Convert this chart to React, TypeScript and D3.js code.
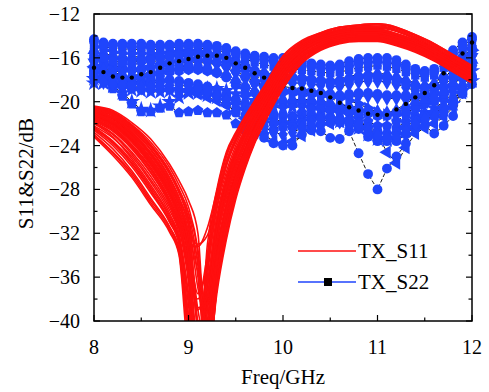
import React from 'react';
import * as d3 from 'd3';

const X_TICKS = [8, 9, 10, 11, 12];
const X_MINOR = [8.5, 9.5, 10.5, 11.5];
const Y_TICKS = [-12, -16, -20, -24, -28, -32, -36, -40];
const Y_MINOR = [-14, -18, -22, -26, -30, -34, -38];

const RED_FREQ = [8.0, 8.2, 8.4, 8.6, 8.8, 8.9, 9.0, 9.1, 9.2, 9.3, 9.4, 9.5, 9.6, 9.7, 9.8, 10.0, 10.2, 10.4, 10.6, 10.8, 11.0, 11.2, 11.4, 11.6, 11.8, 12.0];

const S11_CURVES = [
  [-20.4, -20.8, -21.9, -23.4, -25.7, -27.2, -29.0, -32.0, -44, -37.0, -32.3, -28.6, -25.9, -23.7, -21.9, -18.7, -16.4, -15.2, -14.6, -14.4, -14.4, -14.8, -15.4, -16.2, -17.2, -18.2],
  [-20.5, -20.9, -22.1, -23.7, -26.0, -27.6, -29.6, -33.5, -42, -34.5, -30.0, -26.8, -24.4, -22.4, -20.8, -17.8, -15.9, -14.9, -14.3, -14.1, -14.1, -14.5, -15.1, -15.9, -16.9, -17.9],
  [-20.7, -21.2, -22.4, -24.1, -26.6, -28.3, -30.6, -36, -45, -36.0, -31.5, -28.0, -25.4, -23.2, -21.4, -18.3, -16.2, -15.1, -14.5, -14.3, -14.3, -14.7, -15.3, -16.1, -17.1, -18.1],
  [-20.8, -21.3, -22.6, -24.4, -27.0, -28.8, -31.3, -40, -40, -32.0, -28.0, -25.2, -23.2, -21.5, -20.0, -17.1, -15.3, -14.4, -13.9, -13.7, -13.7, -14.1, -14.7, -15.5, -16.5, -17.5],
  [-21.0, -21.6, -23.0, -24.9, -27.6, -29.5, -32.5, -40, -41, -33.5, -29.5, -26.5, -24.2, -22.2, -20.6, -17.7, -15.8, -14.8, -14.2, -14.0, -14.0, -14.4, -15.0, -15.8, -16.8, -17.8],
  [-21.1, -21.8, -23.2, -25.2, -27.9, -29.9, -32.0, -33.0, -32.2, -29.0, -25.8, -23.5, -21.9, -20.5, -19.2, -16.4, -14.8, -14.0, -13.6, -13.4, -13.4, -13.8, -14.4, -15.2, -16.2, -17.2],
  [-21.4, -22.1, -23.6, -25.7, -28.5, -30.6, -34.5, -44, -38, -31.0, -27.3, -24.8, -22.9, -21.2, -19.7, -16.9, -15.2, -14.3, -13.8, -13.6, -13.6, -14.0, -14.6, -15.4, -16.4, -17.4],
  [-21.5, -22.3, -23.9, -26.0, -28.9, -31.0, -35.5, -46, -34, -28.3, -24.8, -23.0, -21.5, -20.1, -18.8, -16.1, -14.6, -13.8, -13.3, -13.1, -13.0, -13.3, -14.0, -14.8, -15.8, -16.9],
  [-21.8, -22.7, -24.3, -26.5, -29.4, -31.6, -36.5, -47, -40, -33.5, -29.5, -26.5, -24.2, -22.2, -20.6, -17.6, -15.7, -14.7, -14.1, -13.9, -13.9, -14.3, -14.9, -15.7, -16.7, -17.7],
  [-21.9, -22.9, -24.6, -26.8, -29.6, -31.5, -32.8, -33.2, -31.5, -28.2, -25.0, -23.0, -21.5, -20.1, -18.9, -16.2, -14.7, -13.9, -13.5, -13.3, -13.3, -13.6, -14.3, -15.1, -16.1, -17.1],
  [-22.2, -23.3, -25.0, -27.3, -30.2, -32.4, -38.5, -46, -37, -30.8, -27.0, -24.6, -22.7, -21.0, -19.5, -16.7, -15.0, -14.2, -13.7, -13.5, -13.5, -13.9, -14.5, -15.3, -16.3, -17.3],
  [-22.3, -23.6, -25.4, -27.8, -30.6, -32.7, -39.5, -44, -33, -28.0, -24.6, -22.8, -21.3, -19.9, -18.6, -15.9, -14.5, -13.7, -13.2, -13.0, -12.9, -13.2, -13.9, -14.7, -15.7, -16.8],
  [-22.6, -24.0, -25.9, -28.3, -31.0, -33.0, -40.5, -47, -41, -33.8, -29.8, -26.8, -24.5, -22.4, -20.8, -17.8, -15.9, -14.9, -14.3, -14.1, -14.1, -14.5, -15.1, -15.9, -16.9, -17.9],
  [-23.2, -24.9, -26.9, -29.4, -31.9, -34.0, -43, -45, -35, -28.6, -25.0, -23.0, -21.4, -20.0, -18.6, -15.8, -14.4, -13.7, -13.2, -13.0, -12.9, -13.2, -13.9, -14.7, -15.7, -16.7],
  [-23.0, -24.6, -26.5, -29.0, -31.5, -33.6, -41, -48, -45, -37.5, -32.6, -28.9, -26.1, -23.8, -22.0, -18.8, -16.5, -15.3, -14.7, -14.5, -14.5, -14.9, -15.5, -16.3, -17.3, -18.3],
  [-22.0, -23.2, -25.2, -27.6, -30.4, -32.4, -37.5, -45, -38, -31.2, -27.4, -24.9, -23.0, -21.3, -19.8, -17.0, -15.2, -14.3, -13.8, -13.6, -13.6, -14.0, -14.6, -15.4, -16.4, -17.4],
  [-20.6, -21.0, -22.2, -23.9, -26.3, -28.0, -30.2, -35, -45, -34.0, -29.2, -26.2, -23.9, -21.9, -20.3, -17.3, -15.5, -14.5, -14.0, -13.8, -13.8, -14.2, -14.8, -15.6, -16.6, -17.6],
  [-21.2, -21.9, -23.4, -25.5, -28.2, -30.2, -33.5, -45, -44, -36.5, -31.8, -28.2, -25.6, -23.4, -21.6, -18.5, -16.3, -15.1, -14.5, -14.3, -14.3, -14.7, -15.3, -16.1, -17.1, -18.1],
  [-20.5, -21.0, -22.2, -24.0, -26.4, -28.1, -30.1, -34, -45, -35.5, -30.8, -27.4, -24.9, -22.8, -21.1, -18.0, -16.0, -15.0, -14.4, -14.2, -14.2, -14.6, -15.2, -16.0, -17.0, -18.0],
  [-20.9, -21.5, -22.8, -24.7, -27.3, -29.1, -31.9, -39, -42, -33.0, -28.8, -25.9, -23.7, -21.8, -20.3, -17.4, -15.5, -14.6, -14.1, -13.9, -13.9, -14.3, -14.9, -15.7, -16.7, -17.7],
  [-21.2, -22.0, -23.4, -25.5, -28.2, -30.2, -33.8, -43, -37, -30.5, -26.8, -24.3, -22.5, -20.8, -19.4, -16.6, -15.0, -14.1, -13.6, -13.4, -13.4, -13.8, -14.4, -15.2, -16.2, -17.2],
  [-21.6, -22.5, -24.1, -26.2, -29.1, -31.2, -36.0, -46, -39, -32.2, -28.3, -25.6, -23.5, -21.7, -20.2, -17.3, -15.5, -14.5, -14.0, -13.8, -13.8, -14.2, -14.8, -15.6, -16.6, -17.6],
  [-21.7, -22.6, -24.2, -26.4, -29.2, -31.3, -35.0, -45, -35, -29.0, -25.5, -23.4, -21.8, -20.4, -19.1, -16.3, -14.8, -14.0, -13.5, -13.2, -13.2, -13.5, -14.2, -15.0, -16.0, -17.0],
  [-22.0, -23.0, -24.8, -27.1, -29.9, -32.0, -37.8, -46, -41, -34.6, -30.4, -27.3, -24.9, -22.8, -21.1, -18.0, -16.0, -15.0, -14.4, -14.2, -14.2, -14.6, -15.2, -16.0, -17.0, -18.0],
  [-22.4, -23.7, -25.6, -28.0, -30.8, -32.8, -40.0, -46, -36, -29.6, -25.9, -23.7, -22.0, -20.5, -19.1, -16.3, -14.8, -14.0, -13.5, -13.3, -13.2, -13.5, -14.2, -15.0, -16.0, -17.0],
  [-22.8, -24.3, -26.3, -28.8, -31.4, -33.4, -41.5, -47, -39, -32.0, -28.1, -25.5, -23.5, -21.7, -20.1, -17.2, -15.4, -14.5, -14.0, -13.8, -13.7, -14.1, -14.7, -15.5, -16.5, -17.5],
  [-23.1, -24.7, -26.7, -29.2, -31.7, -33.8, -42, -47, -43, -35.5, -31.0, -27.7, -25.2, -23.1, -21.4, -18.3, -16.2, -15.1, -14.5, -14.3, -14.3, -14.7, -15.3, -16.1, -17.1, -18.1],
  [-20.6, -21.1, -22.3, -24.0, -26.5, -28.3, -30.9, -37, -40, -31.5, -27.6, -24.9, -22.9, -21.2, -19.7, -16.9, -15.2, -14.3, -13.8, -13.6, -13.5, -13.9, -14.5, -15.3, -16.3, -17.3],
  [-21.3, -22.0, -23.5, -25.6, -28.4, -30.4, -33.0, -41, -45, -37.0, -32.0, -28.4, -25.7, -23.5, -21.7, -18.6, -16.4, -15.2, -14.6, -14.4, -14.4, -14.8, -15.4, -16.2, -17.2, -18.2],
  [-22.5, -23.8, -25.7, -28.1, -30.9, -32.9, -39.5, -47, -42, -34.2, -30.0, -26.9, -24.6, -22.5, -20.9, -17.9, -15.9, -14.9, -14.3, -14.1, -14.1, -14.5, -15.1, -15.9, -16.9, -17.9],
  [-21.0, -21.7, -23.1, -25.1, -27.8, -29.8, -33.0, -37.5, -35.0, -29.8, -26.4, -24.0, -22.2, -20.7, -19.3, -16.5, -14.9, -14.1, -13.6, -13.4, -13.4, -13.8, -14.4, -15.2, -16.2, -17.2],
  [-21.3, -22.1, -23.6, -25.7, -28.6, -30.7, -34.8, -39.0, -36.5, -30.6, -27.0, -24.5, -22.6, -21.0, -19.6, -16.8, -15.1, -14.2, -13.7, -13.5, -13.5, -13.9, -14.5, -15.3, -16.3, -17.3],
  [-20.9, -21.5, -22.9, -24.8, -27.5, -29.4, -32.0, -35.5, -38.5, -32.5, -28.6, -25.8, -23.7, -21.9, -20.4, -17.5, -15.6, -14.6, -14.1, -13.9, -13.9, -14.3, -14.9, -15.7, -16.7, -17.7],
  [-21.6, -22.4, -24.0, -26.1, -29.0, -31.1, -35.8, -38.0, -34.0, -28.8, -25.5, -23.3, -21.7, -20.3, -19.0, -16.2, -14.7, -13.9, -13.4, -13.2, -13.1, -13.4, -14.1, -14.9, -15.9, -16.9],
  [-20.7, -21.2, -22.5, -24.3, -26.9, -28.7, -31.2, -34.5, -39.0, -34.0, -29.8, -26.8, -24.5, -22.5, -20.9, -17.9, -15.9, -14.9, -14.3, -14.1, -14.1, -14.5, -15.1, -15.9, -16.9, -17.9],
  [-21.2, -21.9, -23.3, -25.4, -28.1, -30.1, -33.6, -38.8, -37.8, -31.6, -27.8, -25.2, -23.2, -21.5, -20.0, -17.1, -15.3, -14.4, -13.9, -13.7, -13.7, -14.1, -14.7, -15.5, -16.5, -17.5],
  [-21.1, -21.8, -23.2, -25.3, -28.0, -30.0, -33.0, -42.5, -43, -35.0, -30.5, -27.3, -24.9, -22.8, -21.1, -18.0, -16.0, -15.0, -14.4, -14.2, -14.2, -14.6, -15.2, -16.0, -17.0, -18.0],
  [-20.9, -21.5, -22.9, -24.9, -27.5, -29.4, -32.0, -41.0, -44, -36.0, -31.2, -27.8, -25.3, -23.1, -21.4, -18.3, -16.2, -15.1, -14.5, -14.3, -14.3, -14.7, -15.3, -16.1, -17.1, -18.1],
  [-21.4, -22.2, -23.7, -25.8, -28.6, -30.6, -34.0, -44, -42, -34.5, -30.0, -26.9, -24.6, -22.6, -20.9, -17.8, -15.8, -14.8, -14.2, -14.0, -14.0, -14.4, -15.0, -15.8, -16.8, -17.8],
  [-20.8, -21.4, -22.7, -24.6, -27.2, -29.1, -31.0, -40.5, -45, -37.0, -32.0, -28.4, -25.7, -23.5, -21.7, -18.6, -16.4, -15.2, -14.6, -14.4, -14.4, -14.8, -15.4, -16.2, -17.2, -18.2],
];

const BLUE_FREQ = [
  8.0, 8.1, 8.2, 8.3, 8.4, 8.5, 8.6, 8.7, 8.8, 8.9,
  9.0, 9.1, 9.2, 9.3, 9.4, 9.5, 9.6, 9.7, 9.8, 9.9,
  10.0, 10.1, 10.2, 10.3, 10.4, 10.5, 10.6, 10.7, 10.8, 10.9,
  11.0, 11.1, 11.2, 11.3, 11.4, 11.5, 11.6, 11.7, 11.8, 11.9,
  12.0,
];

const S22_SERIES = [
  [-14.3, -14.6, -14.7, -14.7, -14.7, -14.7, -14.8, -14.8, -14.8, -14.7,
   -14.7, -14.7, -14.8, -14.9, -15.1, -15.4, -15.6, -15.8, -15.9, -16.0,
   -16.0, -16.1, -16.3, -16.5, -16.6, -16.7, -16.6, -16.3, -16.1, -16.0,
   -16.0, -16.0, -16.2, -16.6, -17.0, -17.2, -17.0, -16.0, -15.3, -14.6,
   -14.1],
  [-14.8, -15.0, -15.1, -15.2, -15.2, -15.3, -15.3, -15.2, -15.1, -15.0,
   -15.0, -15.1, -15.2, -15.3, -15.5, -15.8, -16.1, -16.4, -16.6, -16.8,
   -16.9, -17.0, -17.1, -17.2, -17.3, -17.4, -17.3, -17.1, -16.9, -16.8,
   -16.7, -16.8, -17.0, -17.3, -17.6, -17.8, -17.6, -16.9, -16.0, -15.2,
   -14.5],
  [-15.3, -15.6, -15.8, -15.9, -15.9, -15.9, -15.8, -15.7, -15.6, -15.5,
   -15.4, -15.4, -15.5, -15.6, -15.8, -16.2, -16.6, -17.0, -17.3, -17.5,
   -17.6, -17.6, -17.7, -17.8, -17.9, -18.0, -17.9, -17.7, -17.5, -17.4,
   -17.4, -17.5, -17.7, -18.0, -18.3, -18.5, -18.3, -17.6, -16.7, -15.8,
   -15.0],
  [-15.8, -16.2, -16.5, -16.6, -16.6, -16.5, -16.4, -16.2, -16.0, -15.9,
   -15.8, -15.8, -15.9, -16.0, -16.3, -16.7, -17.2, -17.6, -18.0, -18.2,
   -18.3, -18.3, -18.3, -18.4, -18.5, -18.6, -18.6, -18.4, -18.2, -18.1,
   -18.1, -18.2, -18.4, -18.7, -19.0, -19.1, -18.9, -18.2, -17.3, -16.3,
   -15.4],
  [-16.4, -16.9, -17.2, -17.3, -17.3, -17.2, -17.0, -16.8, -16.6, -16.5,
   -16.4, -16.4, -16.5, -16.6, -16.9, -17.4, -17.9, -18.4, -18.8, -19.1,
   -19.2, -19.2, -19.2, -19.3, -19.4, -19.6, -19.7, -19.6, -19.5, -19.5,
   -19.6, -19.7, -19.7, -19.8, -19.8, -19.7, -19.5, -18.9, -18.0, -16.9,
   -15.9],
  [-17.0, -17.5, -17.8, -18.0, -18.0, -17.9, -17.7, -17.5, -17.3, -17.2,
   -17.1, -17.1, -17.2, -17.4, -17.7, -18.2, -18.7, -19.2, -19.7, -20.0,
   -20.2, -20.2, -20.1, -20.1, -20.2, -20.4, -20.6, -20.7, -20.9, -21.1,
   -21.3, -21.3, -21.0, -20.7, -20.4, -20.2, -20.0, -19.5, -18.6, -17.4,
   -16.4],
  [-17.6, -18.0, -18.4, -18.6, -18.8, -18.9, -18.9, -18.9, -18.9, -19.0,
   -19.0, -19.0, -19.2, -19.3, -19.5, -19.8, -20.2, -20.6, -21.0, -21.2,
   -21.3, -21.3, -21.3, -21.2, -21.2, -21.4, -21.6, -21.8, -22.5, -23.2,
   -23.6, -23.3, -22.4, -21.8, -21.3, -21.1, -21.0, -20.6, -20.0, -18.8,
   -17.8],
  [-18.3, -18.3, -18.6, -19.2, -20.0, -20.7, -20.8, -20.4, -20.0, -19.6,
   -19.2, -18.9, -18.8, -18.8, -19.0, -19.3, -19.6, -19.9, -20.2, -20.5,
   -20.6, -20.5, -20.5, -20.6, -20.8, -21.0, -21.0, -21.2, -21.6, -22.4,
   -23.0, -23.4, -23.0, -22.4, -21.6, -21.0, -20.6, -20.0, -19.2, -18.1,
   -17.2],
  [-17.9, -18.1, -18.8, -19.5, -20.2, -20.9, -20.9, -20.6, -20.4, -21.0,
   -20.9, -20.8, -21.0, -21.0, -21.2, -22.0, -22.6, -23.0, -23.0, -22.6,
   -22.0, -21.5, -21.0, -20.7, -20.6, -20.7, -20.9, -21.0, -21.3, -21.8,
   -22.2, -22.2, -21.8, -21.2, -20.6, -20.2, -19.8, -19.3, -18.6, -17.6,
   -16.8],
  [-16.8, -17.0, -17.3, -17.6, -18.0, -18.3, -18.5, -18.6, -18.6, -18.8,
   -19.0, -19.3, -19.6, -19.9, -20.3, -20.9, -21.5, -22.2, -23.0, -23.6,
   -23.8, -23.6, -23.1, -22.6, -22.2, -22.0, -21.8, -21.6, -21.8, -22.4,
   -23.0, -24.6, -25.6, -24.2, -22.9, -22.4, -22.0, -21.4, -20.5, -19.2,
   -18.0],
  [-16.0, -16.4, -16.7, -16.9, -17.0, -17.0, -16.9, -16.8, -16.7, -16.7,
   -16.7, -16.8, -17.0, -17.3, -17.8, -18.5, -19.3, -20.1, -20.9, -21.5,
   -21.9, -22.1, -22.3, -22.6, -22.7, -23.3, -23.4, -22.7, -24.7, -26.6,
   -28.0, -26.1, -25.0, -23.8, -22.5, -22.2, -22.9, -22.2, -21.3, -19.3,
   -18.4],
  [-17.2, -17.6, -17.9, -18.1, -18.2, -18.2, -18.1, -18.0, -18.0, -18.1,
   -18.3, -18.6, -19.0, -19.5, -20.2, -21.0, -21.8, -22.6, -23.3, -23.8,
   -24.0, -24.0, -23.0, -22.4, -22.0, -21.9, -21.9, -22.0, -22.3, -22.8,
   -23.3, -23.6, -23.6, -23.0, -22.2, -21.6, -21.3, -20.9, -20.3, -19.0,
   -17.9],
  [-15.0, -15.3, -15.5, -15.6, -15.6, -15.6, -15.6, -15.5, -15.4, -15.3,
   -15.3, -15.4, -15.6, -15.9, -16.3, -16.9, -17.5, -18.1, -18.6, -19.0,
   -19.2, -19.3, -19.4, -19.4, -19.5, -19.6, -19.7, -19.9, -20.2, -20.6,
   -21.0, -21.2, -21.2, -21.0, -20.6, -20.2, -19.8, -19.0, -17.8, -16.5,
   -15.3],
  [-14.5, -14.8, -14.9, -14.9, -15.0, -15.0, -15.0, -15.0, -14.9, -14.9,
   -14.9, -14.9, -15.0, -15.1, -15.3, -15.6, -15.9, -16.1, -16.2, -16.3,
   -16.4, -16.5, -16.7, -16.8, -16.9, -17.0, -16.9, -16.7, -16.5, -16.4,
   -16.3, -16.4, -16.6, -16.9, -17.3, -17.5, -17.3, -16.4, -15.6, -14.9,
   -14.3],
  [-15.5, -15.9, -16.1, -16.2, -16.3, -16.2, -16.1, -15.9, -15.8, -15.7,
   -15.6, -15.6, -15.7, -15.8, -16.1, -16.5, -16.9, -17.3, -17.7, -17.9,
   -18.0, -18.0, -18.0, -18.1, -18.2, -18.3, -18.3, -18.1, -17.9, -17.8,
   -17.8, -17.9, -18.1, -18.4, -18.7, -18.8, -18.6, -17.9, -17.0, -16.0,
   -15.2],
  [-16.2, -16.6, -17.0, -17.1, -17.1, -17.1, -16.9, -16.6, -16.4, -16.2,
   -16.1, -16.1, -16.2, -16.4, -16.7, -17.2, -17.7, -18.2, -18.6, -18.9,
   -19.0, -19.0, -19.0, -19.1, -19.2, -19.3, -19.4, -19.3, -19.2, -19.2,
   -19.3, -19.4, -19.4, -19.4, -19.4, -19.3, -19.1, -18.6, -17.7, -16.6,
   -15.7],
  [-17.9, -18.2, -18.5, -18.7, -18.9, -19.0, -19.1, -19.1, -19.0, -19.0,
   -19.1, -19.2, -19.4, -19.6, -19.9, -20.3, -20.8, -21.3, -21.7, -22.0,
   -22.1, -22.0, -21.8, -21.6, -21.5, -21.6, -21.8, -22.0, -22.4, -23.0,
   -23.4, -23.5, -23.3, -22.6, -21.9, -21.4, -21.1, -20.8, -20.2, -19.0,
   -18.1],
  [-15.6, -16.0, -16.3, -16.4, -16.4, -16.3, -16.2, -16.0, -15.8, -15.7,
   -15.6, -15.6, -15.7, -15.8, -16.0, -16.4, -16.8, -17.2, -17.5, -17.7,
   -17.8, -17.8, -17.9, -18.0, -18.1, -18.2, -18.2, -18.0, -17.8, -17.7,
   -17.7, -17.8, -18.0, -18.3, -18.6, -18.8, -18.6, -17.9, -17.0, -16.0,
   -15.1],
  [-17.4, -17.8, -18.1, -18.3, -18.4, -18.4, -18.3, -18.2, -18.1, -18.2,
   -18.3, -18.4, -18.6, -18.9, -19.3, -19.9, -20.5, -21.1, -21.6, -22.0,
   -22.3, -22.3, -22.0, -21.7, -21.5, -21.5, -21.6, -21.7, -21.9, -22.3,
   -22.7, -22.9, -22.8, -22.3, -21.7, -21.3, -21.0, -20.6, -19.9, -18.6,
   -17.6],
  [-16.6, -17.1, -17.4, -17.5, -17.6, -17.5, -17.3, -17.1, -16.9, -16.8,
   -16.8, -16.9, -17.0, -17.2, -17.5, -18.0, -18.5, -19.0, -19.4, -19.7,
   -19.8, -19.8, -19.8, -19.8, -19.9, -20.1, -20.3, -20.4, -20.5, -20.7,
   -20.9, -21.0, -20.8, -20.4, -20.0, -19.8, -19.6, -19.1, -18.3, -17.1,
   -16.2],
  [-17.8, -18.2, -18.4, -18.5, -18.6, -18.7, -18.7, -18.6, -18.5, -18.5,
   -18.6, -18.8, -19.1, -19.4, -19.9, -20.5, -21.1, -21.7, -22.3, -22.8,
   -23.0, -22.8, -22.4, -22.0, -21.7, -21.7, -21.8, -21.9, -22.1, -22.6,
   -23.1, -23.3, -23.2, -22.7, -22.0, -21.6, -21.4, -21.0, -20.3, -19.0,
   -18.0],
];

const S22_MEAN = [
  -16.9, -17.3, -17.7, -17.8, -17.8, -17.5, -17.3, -16.9, -16.5, -16.3,
  -16.1, -15.9, -15.8, -15.8, -16.0, -16.5, -16.9, -17.4, -17.8, -18.3,
  -18.6, -18.75, -18.8, -19.0, -19.2, -19.6, -20.1, -20.5, -20.8, -21.1,
  -21.2, -21.2, -20.7, -20.2, -19.6, -19.2, -18.5, -17.4, -16.5, -15.6,
  -14.6,
];

const LEGEND = ['TX_S11', 'TX_S22'];

const RED = '#ff0f0f';
const BLUE = '#1f45fc';

function polySym(n: number, rot: number) {
  return {
    draw(ctx: any, size: number) {
      const r = Math.sqrt((size * 2) / (n * Math.sin((2 * Math.PI) / n)));
      for (let i = 0; i < n; i++) {
        const a = rot + (i * 2 * Math.PI) / n;
        const px = r * Math.sin(a);
        const py = -r * Math.cos(a);
        if (i === 0) ctx.moveTo(px, py);
        else ctx.lineTo(px, py);
      }
      ctx.closePath();
    },
  };
}

const MARKERS: { type: any; rot: number; size: number }[] = [
  { type: d3.symbolCircle, rot: 0, size: 76 },
  { type: d3.symbolSquare, rot: 0, size: 70 },
  { type: d3.symbolTriangle, rot: 0, size: 74 },
  { type: d3.symbolDiamond, rot: 0, size: 74 },
  { type: d3.symbolTriangle, rot: 180, size: 74 },
  { type: polySym(6, 0), rot: 0, size: 76 },
  { type: d3.symbolCircle, rot: 0, size: 76 },
  { type: d3.symbolStar, rot: 0, size: 84 },
  { type: polySym(5, 0), rot: 0, size: 76 },
  { type: d3.symbolTriangle, rot: -90, size: 74 },
  { type: d3.symbolCircle, rot: 0, size: 76 },
  { type: d3.symbolCircle, rot: 0, size: 76 },
  { type: d3.symbolTriangle, rot: 90, size: 74 },
  { type: d3.symbolCircle, rot: 0, size: 76 },
  { type: d3.symbolSquare, rot: 0, size: 70 },
  { type: d3.symbolCircle, rot: 0, size: 76 },
  { type: d3.symbolStar, rot: 0, size: 84 },
  { type: polySym(6, 0), rot: 0, size: 76 },
  { type: d3.symbolCircle, rot: 0, size: 76 },
  { type: d3.symbolTriangle, rot: 0, size: 74 },
  { type: d3.symbolDiamond, rot: 0, size: 74 },
];

const fmt = (v: number) => (v < 0 ? '\u2212' + Math.abs(v) : String(v));

const FONT = '"Liberation Serif", "Times New Roman", serif';

export default function App() {
  const W = 489;
  const H = 392;
  const left = 94;
  const right = 472;
  const top = 14;
  const bottom = 321;
  const x = d3.scaleLinear().domain([8, 12]).range([left, right]);
  const y = d3.scaleLinear().domain([-40, -12]).range([bottom, top]);

  const redLine = d3
    .line<number>()
    .x((_, i) => x(RED_FREQ[i]))
    .y((d) => y(d))
    .curve(d3.curveMonotoneX);
  const blueLine = d3
    .line<number>()
    .x((_, i) => x(BLUE_FREQ[i]))
    .y((d) => y(d));

  const ts = { fontFamily: FONT };

  return (
    <svg
      width={W}
      height={H}
      style={{ position: 'absolute', left: 0, top: 0, background: '#fff', fontFamily: FONT }}
    >
      <defs>
        <clipPath id="plotClip">
          <rect x={left} y={top} width={right - left} height={bottom - top} />
        </clipPath>
      </defs>

      <g fill="none" stroke="#000" strokeWidth={0.9} strokeDasharray="4,2">
        {S22_SERIES.map((s, k) => (
          <path key={k} d={blueLine(s) || ''} />
        ))}
        <path d={blueLine(S22_MEAN) || ''} />
      </g>

      <g fill={BLUE}>
        {S22_SERIES.map((s, k) => {
          const m = MARKERS[k % MARKERS.length];
          const p = d3.symbol().type(m.type).size(m.size)() || '';
          return (
            <g key={k}>
              {s.map((v, i) => (
                <path
                  key={i}
                  d={p}
                  transform={`translate(${x(BLUE_FREQ[i])},${y(v)}) rotate(${m.rot})`}
                />
              ))}
            </g>
          );
        })}
      </g>
      <g fill="#000">
        {S22_MEAN.map((v, i) => (
          <circle key={i} cx={x(BLUE_FREQ[i])} cy={y(v)} r={2.2} />
        ))}
      </g>

      <g clipPath="url(#plotClip)" fill="none" stroke={RED} strokeWidth={1.6}>
        {S11_CURVES.map((c, k) => (
          <path key={k} d={redLine(c) || ''} />
        ))}
      </g>

      <rect
        x={left}
        y={top}
        width={right - left}
        height={bottom - top}
        fill="none"
        stroke="#000"
        strokeWidth={1.5}
      />

      <g stroke="#000" strokeWidth={1.2}>
        {Y_TICKS.map((t) => (
          <g key={t}>
            <line x1={left} x2={left + 6} y1={y(t)} y2={y(t)} />
            <line x1={right} x2={right - 6} y1={y(t)} y2={y(t)} />
          </g>
        ))}
        {Y_MINOR.map((t) => (
          <g key={t}>
            <line x1={left} x2={left + 3.5} y1={y(t)} y2={y(t)} />
            <line x1={right} x2={right - 3.5} y1={y(t)} y2={y(t)} />
          </g>
        ))}
        {X_TICKS.map((t) => (
          <line key={t} x1={x(t)} x2={x(t)} y1={bottom} y2={bottom - 6} />
        ))}
        {X_MINOR.map((t) => (
          <line key={t} x1={x(t)} x2={x(t)} y1={bottom} y2={bottom - 3.5} />
        ))}
      </g>

      <g fontSize={20} fill="#000">
        {Y_TICKS.map((t) => (
          <text key={t} x={left - 14} y={y(t) + 7} textAnchor="end" style={ts}>
            {fmt(t)}
          </text>
        ))}
        {X_TICKS.map((t) => (
          <text key={t} x={x(t)} y={354} textAnchor="middle" style={ts}>
            {fmt(t)}
          </text>
        ))}
      </g>

      <text x={(left + right) / 2} y={384} textAnchor="middle" fontSize={21} style={ts}>
        Freq/GHz
      </text>
      <text
        transform={`translate(33,${(top + bottom) / 2 + 6}) rotate(-90)`}
        textAnchor="middle"
        fontSize={21}
        style={ts}
      >
        S11&amp;S22/dB
      </text>

      <g>
        <line x1={298} x2={356} y1={251} y2={251} stroke={RED} strokeWidth={1.3} />
        <text x={358} y={258} fontSize={21} style={ts}>
          {LEGEND[0]}
        </text>
        <line x1={298} x2={356} y1={282} y2={282} stroke={BLUE} strokeWidth={1.3} />
        <rect x={324} y={278} width={8} height={8} fill="#000" />
        <text x={358} y={289} fontSize={21} style={ts}>
          {LEGEND[1]}
        </text>
      </g>
    </svg>
  );
}
